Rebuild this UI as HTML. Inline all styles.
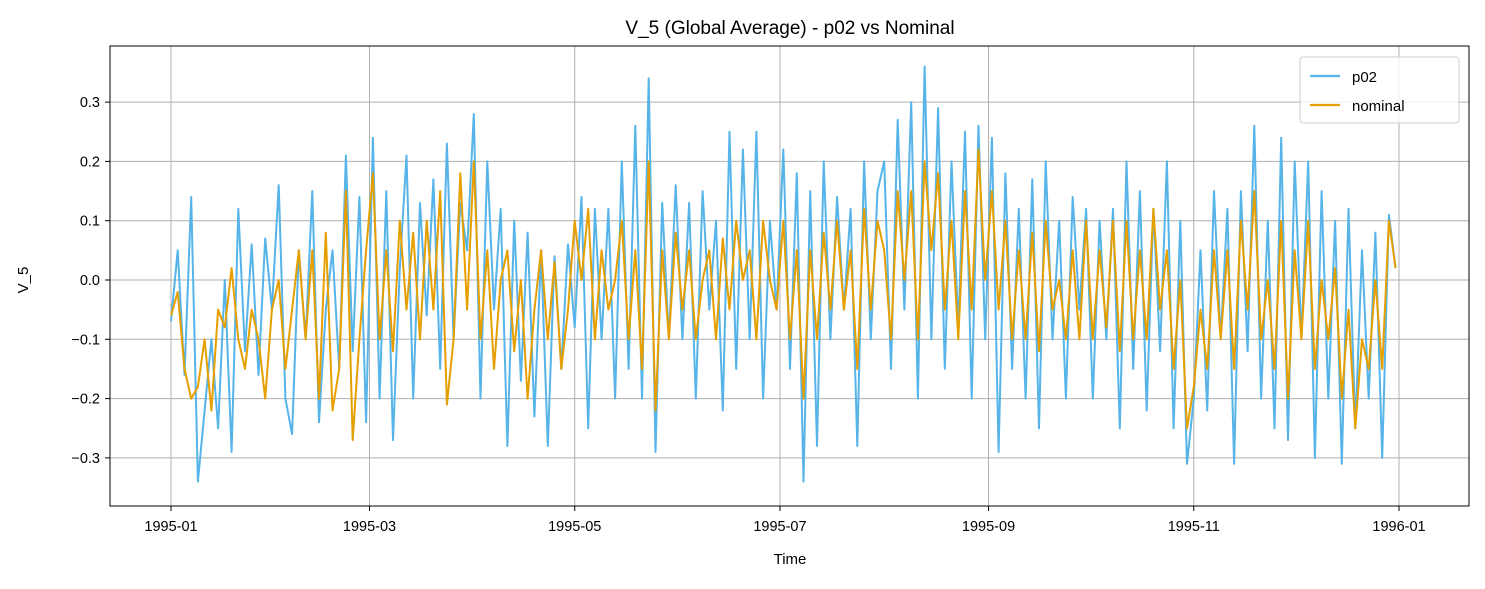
<!DOCTYPE html>
<html><head><meta charset="utf-8"><style>
body{margin:0;background:#fff;}
svg text{font-family:"Liberation Sans","DejaVu Sans",sans-serif;fill:#000;}
</style></head><body>
<svg id="chart" width="1485" height="584">
<text x="790" y="34" font-size="19" text-anchor="middle">V_5 (Global Average) - p02 vs Nominal</text>
<g id="grid"></g><g id="series"></g><g id="ticks"></g>
<rect x="110" y="46" width="1359" height="460" fill="none" stroke="#000" stroke-width="1"/>
<text x="790" y="564" font-size="15" text-anchor="middle">Time</text>
<text x="28" y="280" font-size="15" text-anchor="middle" transform="rotate(-90 28 280)">V_5</text>
<g>
<rect x="1300" y="57" width="159" height="66" rx="3" fill="#fff" fill-opacity="0.8" stroke="#ccc"/>
<line x1="1310" y1="76" x2="1340" y2="76" stroke="#56B4E9" stroke-width="2.2"/>
<text x="1352" y="82" font-size="15">p02</text>
<line x1="1310" y1="105" x2="1340" y2="105" stroke="#E69F00" stroke-width="2.2"/>
<text x="1352" y="111" font-size="15">nominal</text>
</g>
</svg>
<script>
const yTicks=[-0.3,-0.2,-0.1,0.0,0.1,0.2,0.3];
const yTickLabels=["−0.3","−0.2","−0.1","0.0","0.1","0.2","0.3"];
const xTickDays=[0,59,120,181,243,304,365];
const xTickLabels=["1995-01","1995-03","1995-05","1995-07","1995-09","1995-11","1996-01"];
const stepDays=2;
const p02=[-0.07,0.05,-0.16,0.14,-0.34,-0.22,-0.1,-0.25,0.0,-0.29,0.12,-0.12,0.06,-0.16,0.07,-0.05,
0.16,-0.2,-0.26,0.05,-0.1,0.15,-0.24,-0.05,0.05,-0.15,0.21,-0.12,0.14,-0.24,
0.24,-0.2,0.15,-0.27,0.02,0.21,-0.2,0.13,-0.06,0.17,-0.15,0.23,-0.1,0.13,0.05,
0.28,-0.2,0.2,-0.05,0.12,-0.28,0.1,-0.17,0.08,-0.23,0.05,-0.28,0.04,-0.15,0.06,
-0.08,0.14,-0.25,0.12,-0.1,0.12,-0.2,0.2,-0.15,0.26,-0.2,0.34,-0.29,0.13,-0.1,0.16,
-0.1,0.13,-0.2,0.15,-0.05,0.1,-0.22,0.25,-0.15,0.22,-0.1,0.25,-0.2,0.1,-0.05,
0.22,-0.15,0.18,-0.34,0.15,-0.28,0.2,-0.1,0.14,-0.05,0.12,-0.28,0.2,-0.1,0.15,
0.2,-0.15,0.27,-0.05,0.3,-0.2,0.36,-0.1,0.29,-0.15,0.2,-0.08,0.25,-0.2,0.26,-0.1,
0.24,-0.29,0.18,-0.15,0.12,-0.2,0.17,-0.25,0.2,-0.1,0.1,-0.2,0.14,-0.05,0.12,
-0.2,0.1,-0.1,0.12,-0.25,0.2,-0.15,0.15,-0.22,0.12,-0.12,0.2,-0.25,0.1,-0.31,-0.2,
0.05,-0.22,0.15,-0.1,0.12,-0.31,0.15,-0.12,0.26,-0.2,0.1,-0.25,0.24,-0.27,0.2,
-0.1,0.2,-0.3,0.15,-0.2,0.1,-0.31,0.12,-0.25,0.05,-0.2,0.08,-0.3,0.11,0.02];
const nominal=[-0.06,-0.02,-0.15,-0.2,-0.18,-0.1,-0.22,-0.05,-0.08,0.02,-0.1,-0.15,-0.05,-0.1,-0.2,-0.05,
0.0,-0.15,-0.05,0.05,-0.1,0.05,-0.2,0.08,-0.22,-0.15,0.15,-0.27,-0.1,0.05,
0.18,-0.1,0.05,-0.12,0.1,-0.05,0.08,-0.1,0.1,-0.05,0.15,-0.21,-0.1,0.18,-0.05,
0.2,-0.1,0.05,-0.15,0.0,0.05,-0.12,0.0,-0.2,-0.05,0.05,-0.1,0.03,-0.15,-0.05,
0.1,0.0,0.12,-0.1,0.05,-0.05,0.0,0.1,-0.1,0.05,-0.15,0.2,-0.22,0.05,-0.1,0.08,
-0.05,0.05,-0.1,0.0,0.05,-0.1,0.07,-0.05,0.1,0.0,0.05,-0.1,0.1,0.0,-0.05,
0.1,-0.1,0.05,-0.2,0.05,-0.1,0.08,-0.05,0.1,-0.05,0.05,-0.15,0.12,-0.05,0.1,
0.05,-0.1,0.15,0.0,0.15,-0.1,0.2,0.05,0.18,-0.05,0.1,-0.1,0.15,-0.05,0.22,0.0,
0.15,-0.05,0.1,-0.1,0.05,-0.1,0.08,-0.12,0.1,-0.05,0.0,-0.1,0.05,-0.1,0.1,
-0.1,0.05,-0.08,0.1,-0.12,0.1,-0.1,0.05,-0.1,0.12,-0.05,0.05,-0.15,0.0,-0.25,-0.18,
-0.05,-0.15,0.05,-0.1,0.05,-0.15,0.1,-0.05,0.15,-0.1,0.0,-0.15,0.1,-0.2,0.05,
-0.1,0.1,-0.15,0.0,-0.1,0.02,-0.2,-0.05,-0.25,-0.1,-0.15,0.0,-0.15,0.1,0.02];

const NS="http://www.w3.org/2000/svg";
const xScale=d=>171+d*(1399-171)/365;
const yScale=v=>280-v*593;
const grid=document.getElementById('grid'),ticks=document.getElementById('ticks'),series=document.getElementById('series');
function mk(tag,attrs,parent){const e=document.createElementNS(NS,tag);for(const k in attrs)e.setAttribute(k,attrs[k]);parent.appendChild(e);return e;}
yTicks.forEach((v,i)=>{const y=yScale(v);
 const g=mk('line',{x1:110,x2:1469,y1:y,y2:y,stroke:'#b0b0b0','stroke-width':1},grid);
 
 
 mk('line',{x1:105,x2:110,y1:y,y2:y,stroke:'#000'},ticks);
 const t=mk('text',{x:100,y:y+5,'font-size':14.5,'text-anchor':'end'},ticks);t.textContent=yTickLabels[i];
 
 
});
xTickDays.forEach((d,i)=>{const x=xScale(d);
 const g=mk('line',{x1:x,x2:x,y1:46,y2:506,stroke:'#b0b0b0','stroke-width':1},grid);
 
 
 mk('line',{x1:x,x2:x,y1:506,y2:511,stroke:'#000'},ticks);
 const t=mk('text',{x:x,y:531,'font-size':14.5,'text-anchor':'middle'},ticks);t.textContent=xTickLabels[i];
 
 
});
function line(vals,color,name){
 const p=mk('polyline',{points:vals.map((v,i)=>xScale(i*stepDays).toFixed(1)+','+yScale(v).toFixed(1)).join(' '),fill:'none',stroke:color,'stroke-width':2,'stroke-linejoin':'round'},series);
 
 
}
line(p02,'#56B4E9','p02-line');
line(nominal,'#E69F00','nominal-line');
</script>
</body></html>
